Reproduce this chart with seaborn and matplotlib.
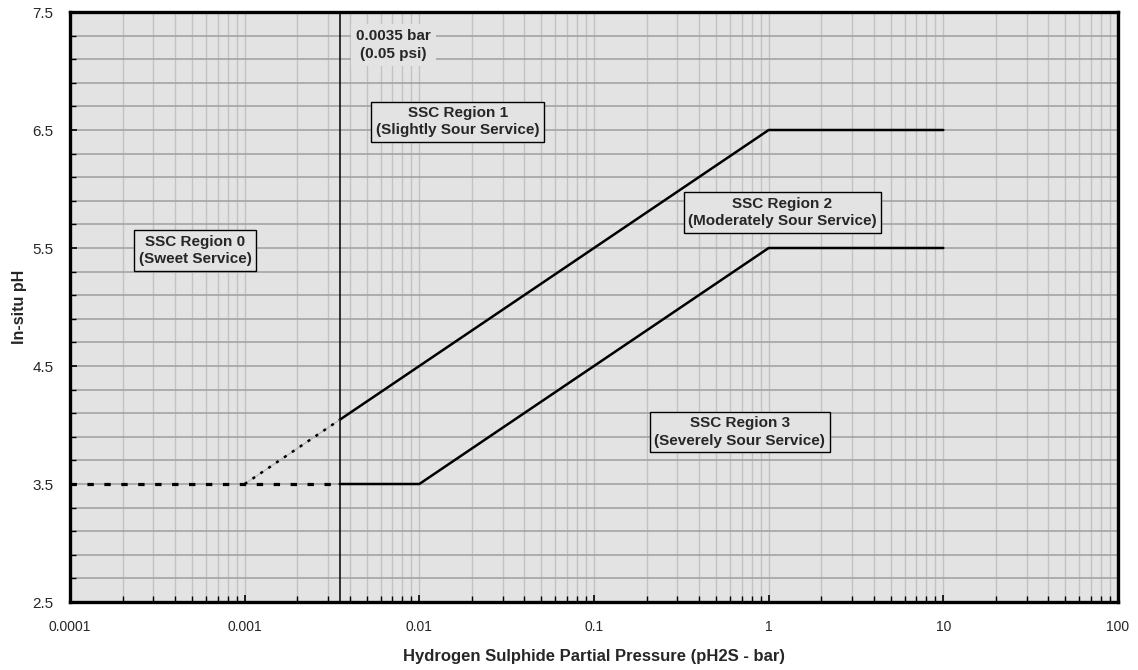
import numpy as np
import pandas as pd
import matplotlib
matplotlib.use("Agg")
import matplotlib.pyplot as plt
import matplotlib.ticker as mticker
import seaborn as sns

# ---- data ----
threshold_bar = 0.0035
upper_x = [0.0035, 1.0, 10.0]
upper_y = [4.044, 6.5, 6.5]
lower_x = [0.0035, 0.01, 1.0, 10.0]
lower_y = [3.5, 3.5, 5.5, 5.5]
ext_diag_x = [0.001, 0.0035]
ext_diag_y = [3.5, 4.044]
ext_flat_x = [0.0001, 0.0035]
ext_flat_y = [3.5, 3.5]

x_ticks = [0.0001, 0.001, 0.01, 0.1, 1, 10, 100]
x_tick_labels = ["0.0001", "0.001", "0.01", "0.1", "1", "10", "100"]
y_ticks = [2.5, 3.5, 4.5, 5.5, 6.5, 7.5]
y_minor = [2.5 + 0.2 * i for i in range(26)]

region_labels = ["SSC Region 0\n(Sweet Service)",
                 "SSC Region 1\n(Slightly Sour Service)",
                 "SSC Region 2\n(Moderately Sour Service)",
                 "SSC Region 3\n(Severely Sour Service)"]
region_x = [5.2e-4, 0.0166, 1.2, 0.684]
region_y = [5.48, 6.57, 5.80, 3.94]

# ---- style ----
sns.set_style("ticks")
plt.rcParams['font.family'] = ['Liberation Sans', 'DejaVu Sans']
BG = "#e3e3e3"

fig = plt.figure(figsize=(11.38, 6.70), dpi=100)
ax = fig.add_axes([70/1138, 68/670, 1048/1138, 590/670])
ax.set_facecolor(BG)

ax.set_xscale("log")
ax.set_xlim(1e-4, 100)
ax.set_ylim(2.5, 7.5)

ax.set_xticks(x_ticks)
ax.set_xticklabels(x_tick_labels)
ax.xaxis.set_minor_locator(mticker.LogLocator(base=10, subs=np.arange(2, 10)))
ax.xaxis.set_minor_formatter(mticker.NullFormatter())
ax.set_yticks(y_ticks)
ax.set_yticklabels([f"{v:.1f}" for v in y_ticks])
ax.yaxis.set_minor_locator(mticker.FixedLocator(y_minor))

ax.grid(which="both", axis="x", color="#c3c3c3", lw=1.0, zorder=0)
ax.grid(which="both", axis="y", color="#a4a4a4", lw=1.2, zorder=0)
ax.set_axisbelow(True)

ax.tick_params(which="both", direction="in", color="black", top=False, right=False)
ax.tick_params(which="major", length=5, width=1.2)
ax.tick_params(which="minor", length=4, width=1.0)
ax.tick_params(axis="x", which="major", labelsize=10, pad=13)
ax.tick_params(axis="y", which="major", labelsize=11, pad=12)

for s in ax.spines.values():
    s.set_linewidth(2.4)
    s.set_color("black")
    s.set_visible(True)

# ---- lines ----
ax.axvline(threshold_bar, color="black", lw=1.1, zorder=3)

sns.lineplot(x=upper_x, y=upper_y, ax=ax, color="black", lw=1.8, sort=False, zorder=4)
sns.lineplot(x=lower_x, y=lower_y, ax=ax, color="black", lw=1.8, sort=False, zorder=4)
sns.lineplot(x=ext_diag_x, y=ext_diag_y, ax=ax, color="#b0b0b0", lw=0.7, sort=False, zorder=4)
sns.lineplot(x=ext_diag_x, y=ext_diag_y, ax=ax, color="black", lw=1.8,
             linestyle=(0, (1.2, 2.6)), sort=False, zorder=5)
sns.lineplot(x=ext_flat_x, y=ext_flat_y, ax=ax, color="black", lw=2.3,
             linestyle=(0, (2.0, 3.3)), sort=False, zorder=5)

# ---- annotations ----
ax.text(0.0071, 7.22, "0.0035 bar\n(0.05 psi)", ha="center", va="center",
        fontsize=11, fontweight="bold", linespacing=1.35, zorder=6,
        bbox=dict(boxstyle="square,pad=0.35", facecolor=BG, edgecolor="none"))

for lab, xx, yy in zip(region_labels, region_x, region_y):
    ax.text(xx, yy, lab, ha="center", va="center", fontsize=11, fontweight="bold",
            linespacing=1.3, zorder=6,
            bbox=dict(boxstyle="square,pad=0.3", facecolor=BG, edgecolor="black", lw=1.0))

ax.set_xlabel("Hydrogen Sulphide Partial Pressure (pH2S - bar)", fontsize=12,
              fontweight="bold", labelpad=11)
ax.set_ylabel("In-situ pH", fontsize=11.5, fontweight="bold", labelpad=4)

fig.savefig("out.png", dpi=100, facecolor="white")
